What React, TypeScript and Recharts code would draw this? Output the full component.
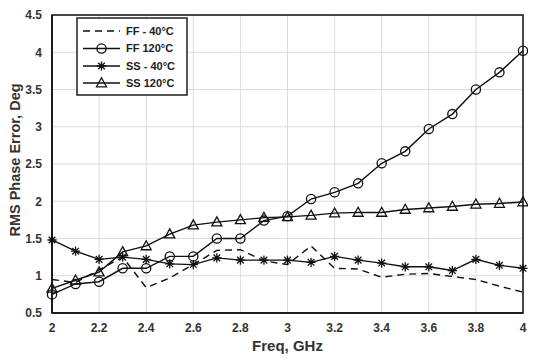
import React from 'react';
import { LineChart, Line, XAxis, YAxis, CartesianGrid, ReferenceArea, Label } from 'recharts';

const freqs = [2.0, 2.1, 2.2, 2.3, 2.4, 2.5, 2.6, 2.7, 2.8, 2.9, 3.0, 3.1, 3.2, 3.3, 3.4, 3.5, 3.6, 3.7, 3.8, 3.9, 4.0];
const ff40 = [0.95, 0.91, 1.08, 1.25, 0.84, 0.97, 1.15, 1.34, 1.35, 1.2, 1.15, 1.4, 1.1, 1.09, 0.98, 1.02, 1.03, 0.99, 0.95, 0.86, 0.78];
const ff120 = [0.75, 0.89, 0.92, 1.1, 1.1, 1.26, 1.26, 1.5, 1.5, 1.74, 1.8, 2.03, 2.12, 2.24, 2.51, 2.67, 2.97, 3.17, 3.5, 3.73, 4.02];
const ss40 = [1.48, 1.33, 1.22, 1.25, 1.22, 1.16, 1.15, 1.24, 1.21, 1.21, 1.21, 1.18, 1.26, 1.21, 1.17, 1.12, 1.12, 1.07, 1.22, 1.14, 1.1];
const ss120 = [0.83, 0.94, 1.05, 1.32, 1.4, 1.56, 1.68, 1.72, 1.75, 1.78, 1.79, 1.81, 1.84, 1.85, 1.85, 1.89, 1.91, 1.93, 1.96, 1.97, 1.99];

const xTicks = [2, 2.2, 2.4, 2.6, 2.8, 3, 3.2, 3.4, 3.6, 3.8, 4];
const yTicks = [0.5, 1, 1.5, 2, 2.5, 3, 3.5, 4, 4.5];

const seriesNames = ['FF - 40\u00b0C', 'FF 120\u00b0C', 'SS - 40\u00b0C', 'SS 120\u00b0C'];
const seriesKeys = ['ff40', 'ff120', 'ss40', 'ss120'];
const seriesMarkers = ['none', 'circle', 'star', 'triangle'];
const seriesDash = ['7 5', undefined, undefined, undefined];

const data = freqs.map((f, i) => ({ f, ff40: ff40[i], ff120: ff120[i], ss40: ss40[i], ss120: ss120[i] }));

const FONT = '"Liberation Sans", Arial, sans-serif';
const INK = '#111';

function Marker({ kind, cx, cy }: { kind: string; cx: number; cy: number }) {
  if (kind === 'circle') {
    return <circle cx={cx} cy={cy} r={4.6} fill="none" stroke={INK} strokeWidth={1.3} />;
  }
  if (kind === 'triangle') {
    return (
      <path
        d={`M${cx},${cy - 5.2} L${cx - 5},${cy + 3.8} L${cx + 5},${cy + 3.8} Z`}
        fill="none"
        stroke={INK}
        strokeWidth={1.3}
      />
    );
  }
  if (kind === 'star') {
    const r = 4.6;
    const d = r * 0.72;
    return (
      <path
        d={`M${cx - r},${cy} L${cx + r},${cy} M${cx},${cy - r} L${cx},${cy + r} M${cx - d},${cy - d} L${cx + d},${cy + d} M${cx - d},${cy + d} L${cx + d},${cy - d}`}
        fill="none"
        stroke={INK}
        strokeWidth={1.3}
      />
    );
  }
  return null;
}

function makeDot(kind: string) {
  return (props: any) => {
    const { cx, cy, index } = props;
    if (kind === 'none' || cx == null || cy == null) return <g key={`d-${kind}-${index}`} />;
    return (
      <g key={`d-${kind}-${index}`}>
        <Marker kind={kind} cx={cx} cy={cy} />
      </g>
    );
  };
}

function LegendBox() {
  const rows = [14, 31.5, 49, 66];
  return (
    <svg width={112} height={79} style={{ display: 'block' }}>
      <rect x={1} y={1} width={110} height={77} fill="#fff" stroke={INK} strokeWidth={1.4} />
      {seriesNames.map((name, i) => (
        <g key={name}>
          <line
            x1={7}
            x2={44}
            y1={rows[i]}
            y2={rows[i]}
            stroke={INK}
            strokeWidth={1.4}
            strokeDasharray={seriesDash[i]}
          />
          <Marker kind={seriesMarkers[i]} cx={25.5} cy={rows[i]} />
          <text
            x={50}
            y={rows[i]}
            dy="0.36em"
            fontFamily={FONT}
            fontWeight="bold"
            fontSize={11}
            fill="#222"
          >
            {name}
          </text>
        </g>
      ))}
    </svg>
  );
}

export default function App() {
  const tickStyle = { fontFamily: FONT, fontWeight: 'bold' as const, fontSize: 12, fill: '#333' };
  return (
    <div style={{ position: 'relative', width: 520, height: 350 }}>
      <LineChart width={520} height={350} data={data} margin={{ top: 7, right: 5, left: 0, bottom: 8 }}>
        <CartesianGrid stroke="#dcdcdc" strokeWidth={1} />
        <XAxis
          dataKey="f"
          type="number"
          domain={[2, 4]}
          ticks={xTicks}
          interval={0}
          tickFormatter={(v: number) => String(v)}
          tick={tickStyle}
          tickLine={false}
          tickMargin={4}
          axisLine={{ stroke: INK, strokeWidth: 1.5 }}
          height={37}
          allowDecimals
        >
          <Label
            content={(props: any) => {
              const vb = props.viewBox;
              return (
                <text
                  x={vb.x + vb.width / 2}
                  y={vb.y + 38}
                  textAnchor="middle"
                  fontFamily={FONT}
                  fontWeight="bold"
                  fontSize={15}
                  fill="#333"
                >
                  Freq, GHz
                </text>
              );
            }}
          />
        </XAxis>
        <YAxis
          type="number"
          domain={[0.5, 4.5]}
          ticks={yTicks}
          interval={0}
          tickFormatter={(v: number) => String(v)}
          tick={tickStyle}
          tickLine={false}
          tickMargin={4}
          axisLine={{ stroke: INK, strokeWidth: 1.5 }}
          width={44}
        >
          <Label
            content={(props: any) => {
              const vb = props.viewBox;
              const cx = 7;
              const cy = vb.y + vb.height / 2 - 4;
              return (
                <text
                  x={cx}
                  y={cy}
                  transform={`rotate(-90 ${cx} ${cy})`}
                  textAnchor="middle"
                  dominantBaseline="central"
                  fontFamily={FONT}
                  fontWeight="bold"
                  fontSize={14.5}
                  fill="#333"
                >
                  RMS Phase Error, Deg
                </text>
              );
            }}
          />
        </YAxis>
        <ReferenceArea x1={2} x2={4} y1={0.5} y2={4.5} fill="none" stroke={INK} strokeWidth={1.5} ifOverflow="visible" />
        {seriesKeys.map((k, i) => (
          <Line
            key={k}
            dataKey={k}
            name={seriesNames[i]}
            type="linear"
            stroke={INK}
            strokeWidth={1.4}
            strokeDasharray={seriesDash[i]}
            dot={makeDot(seriesMarkers[i])}
            activeDot={false}
            isAnimationActive={false}
          />
        ))}
      </LineChart>
      <div style={{ position: 'absolute', left: 68, top: 9 }}>
        <LegendBox />
      </div>
    </div>
  );
}
